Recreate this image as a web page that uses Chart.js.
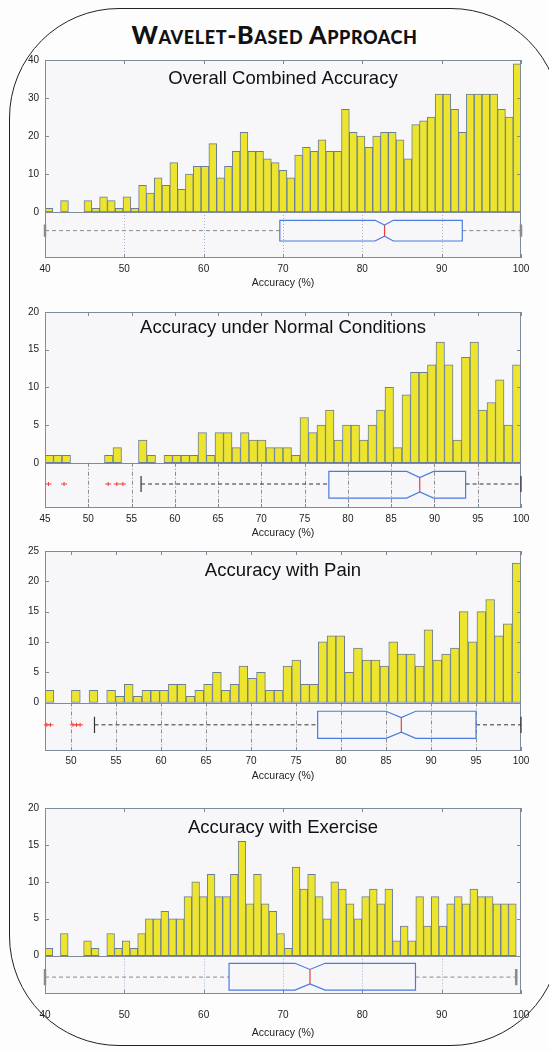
<!DOCTYPE html>
<html>
<head>
<meta charset="utf-8">
<script src="https://cdn.jsdelivr.net/npm/chart.js@4.4.1/dist/chart.umd.min.js"></script>
<style>
	html, body { margin: 0; padding: 0; background: #fdfdfd; }
	#page { position: relative; width: 549px; height: 1051px; overflow: hidden; }
	#frame {
		position: absolute; left: 9px; top: 8px; width: 550px; height: 1036px;
		border: 1.5px solid #222; border-radius: 110px;
	}
	#heading {
		position: absolute; left: 0; top: 19px; width: 549px; text-align: center;
		font: 900 25px "Lato"; font-variant: small-caps; color: #111; letter-spacing: 0.6px;
	}
	.panel { position: absolute; left: 0; width: 549px; }
</style>
</head>
<body>
<div id="page">
	<div id="frame"></div>
	<div id="heading">Wavelet-Based Approach</div>
	<div class="panel" style="top:48px;height:242px"><canvas id="chart-overall"></canvas></div>
	<div class="panel" style="top:300px;height:240px"><canvas id="chart-normal"></canvas></div>
	<div class="panel" style="top:539px;height:244px"><canvas id="chart-pain"></canvas></div>
	<div class="panel" style="top:796px;height:244px"><canvas id="chart-exercise"></canvas></div>
</div>
<script>
// DATA: histogram counts per bin (left to right), bin range, axis ticks, box plot stats

// Overall Combined Accuracy
const overall_counts = [1,0,3,0,0,3,1,4,3,1,4,1,7,5,9,7,13,6,10,12,12,18,9,12,16,21,16,16,14,13,11,9,15,17,16,19,16,16,27,21,20,17,20,21,21,19,14,23,24,25,31,31,27,21,31,31,31,31,27,25,39];
const overall_bins = [40, 100];
const overall_x_ticks = [40, 50, 60, 70, 80, 90, 100];
const overall_y_ticks = [0, 10, 20, 30, 40];
// whisker low, q1, median, q3, whisker high
const overall_box = [40, 69.6, 82.8, 92.6, 100];
const overall_notch = [81.6, 83.9];
const overall_outliers = [];

// Accuracy under Normal Conditions
const normal_counts = [1,1,1,0,0,0,0,1,2,0,0,3,1,0,1,1,1,1,4,1,4,4,2,4,3,3,2,2,2,1,6,4,5,7,3,5,5,3,5,7,10,2,9,12,12,13,16,13,3,14,16,7,8,11,5,13];
const normal_bins = [45, 100];
const normal_x_ticks = [45, 50, 55, 60, 65, 70, 75, 80, 85, 90, 95, 100];
const normal_y_ticks = [0, 5, 10, 15, 20];
const normal_box = [56.1, 77.8, 88.3, 93.6, 100];
const normal_notch = [86.8, 89.9];
const normal_outliers = [45.4, 47.2, 52.3, 53.3, 54.0];

// Accuracy with Pain
const pain_counts = [2,0,0,2,0,2,0,2,1,3,1,2,2,2,3,3,1,2,3,5,2,3,6,4,5,2,2,6,7,3,3,10,11,11,5,9,7,7,6,10,8,8,6,12,7,8,9,15,10,15,17,11,13,23];
const pain_bins = [47.1, 100];
const pain_x_ticks = [50, 55, 60, 65, 70, 75, 80, 85, 90, 95, 100];
const pain_y_ticks = [0, 5, 10, 15, 20, 25];
const pain_box = [52.6, 77.4, 86.7, 95.0, 100];
const pain_notch = [85.0, 88.3];
const pain_outliers = [47.3, 47.7, 50.2, 50.6, 51.0];

// Accuracy with Exercise
const exercise_counts = [1,0,3,0,0,2,1,0,3,1,2,1,3,5,5,6,5,5,8,10,8,11,8,8,11,15.5,7,11,7,6,3,1,12,9,11,8,5,10,9,7,5,8,9,7,9,2,4,2,8,4,8,4,7,8,7,9,8,8,7,7,7];
const exercise_bins = [40, 99.4];
const exercise_x_ticks = [40, 50, 60, 70, 80, 90, 100];
const exercise_y_ticks = [0, 5, 10, 15, 20];
const exercise_box = [40, 63.2, 73.4, 86.7, 99.4];
const exercise_notch = [71.5, 75.3];
const exercise_outliers = [];

// STYLE
const font_family = '"Liberation Sans", Arial, sans-serif';
const bar_fill = "#ede42e";
const bar_edge = "#6a7d96";
const plot_bg = "#f7f7f9";
const frame_color = "#7f8a9a";
const box_color = "#4b7be0";
const median_color = "#f03c3c";

function to_points(counts, bins) {
	const step = (bins[1] - bins[0]) / counts.length;
	return counts.map((c, i) => ({ x: bins[0] + (i + 0.5) * step, y: c }));
}

function make_overlay(cfg) {
	return {
		id: "overlay_" + cfg.id,
		beforeDraw(chart) {
			const { ctx, chartArea: a } = chart;
			ctx.save();
			ctx.fillStyle = plot_bg;
			ctx.fillRect(a.left, a.top, a.right - a.left, a.bottom - a.top);
			ctx.restore();
		},
		afterDraw(chart) {
			const { ctx, chartArea: a } = chart;
			const xs = chart.scales.x;
			const ys = chart.scales.y;
			const y0 = ys.getPixelForValue(0);
			ctx.save();

			// grid of the box plot strip
			ctx.strokeStyle = cfg.grid_color;
			ctx.lineWidth = 1;
			ctx.setLineDash(cfg.grid_dash);
			cfg.x_ticks.forEach(v => {
				const px = Math.round(xs.getPixelForValue(v)) + 0.5;
				if (px <= a.left + 1 || px >= a.right - 1) return;
				ctx.beginPath();
				ctx.moveTo(px, y0);
				ctx.lineTo(px, a.bottom);
				ctx.stroke();
			});
			ctx.setLineDash([]);

			// frame, zero line and inward ticks
			ctx.strokeStyle = frame_color;
			ctx.strokeRect(a.left + 0.5, a.top + 0.5, a.right - a.left - 1, a.bottom - a.top - 1);
			ctx.beginPath();
			ctx.moveTo(a.left, Math.round(y0) + 0.5);
			ctx.lineTo(a.right, Math.round(y0) + 0.5);
			ctx.stroke();
			ctx.beginPath();
			cfg.x_ticks.forEach(v => {
				const px = Math.round(xs.getPixelForValue(v)) + 0.5;
				ctx.moveTo(px, a.top); ctx.lineTo(px, a.top + 4);
				ctx.moveTo(px, a.bottom); ctx.lineTo(px, a.bottom - 4);
			});
			cfg.y_ticks.forEach(v => {
				const py = Math.round(ys.getPixelForValue(v)) + 0.5;
				ctx.moveTo(a.left, py); ctx.lineTo(a.left + 4, py);
				ctx.moveTo(a.right, py); ctx.lineTo(a.right - 4, py);
			});
			ctx.stroke();

			// box plot below zero
			const strip = a.bottom - y0;
			const top = y0 + strip * cfg.box_top;
			const bot = y0 + strip * cfg.box_bottom;
			const mid = y0 + strip * cfg.whisker_at;
			const inset = (bot - top) * 0.23;
			const [w_lo, q1, med, q3, w_hi] = cfg.box.map(v => xs.getPixelForValue(v));
			const [n_lo, n_hi] = cfg.notch.map(v => xs.getPixelForValue(v));

			ctx.strokeStyle = cfg.whisker_color;
			ctx.lineWidth = 1;
			ctx.setLineDash([4, 3]);
			ctx.beginPath();
			ctx.moveTo(w_lo, mid); ctx.lineTo(q1, mid);
			ctx.moveTo(q3, mid); ctx.lineTo(w_hi, mid);
			ctx.stroke();
			ctx.setLineDash([]);
			ctx.lineWidth = cfg.cap_width;
			const cap = (bot - top) * 0.3;
			ctx.beginPath();
			ctx.moveTo(w_lo, mid - cap); ctx.lineTo(w_lo, mid + cap);
			ctx.moveTo(w_hi, mid - cap); ctx.lineTo(w_hi, mid + cap);
			ctx.stroke();

			ctx.strokeStyle = box_color;
			ctx.lineWidth = 1.2;
			ctx.beginPath();
			ctx.moveTo(q1, top);
			ctx.lineTo(n_lo, top);
			ctx.lineTo(med, top + inset);
			ctx.lineTo(n_hi, top);
			ctx.lineTo(q3, top);
			ctx.lineTo(q3, bot);
			ctx.lineTo(n_hi, bot);
			ctx.lineTo(med, bot - inset);
			ctx.lineTo(n_lo, bot);
			ctx.lineTo(q1, bot);
			ctx.closePath();
			ctx.stroke();

			ctx.strokeStyle = median_color;
			ctx.beginPath();
			ctx.moveTo(med, top + inset);
			ctx.lineTo(med, bot - inset);
			ctx.stroke();

			ctx.lineWidth = 1;
			cfg.outliers.forEach(v => {
				const px = xs.getPixelForValue(v);
				ctx.beginPath();
				ctx.moveTo(px - 3, mid); ctx.lineTo(px + 3, mid);
				ctx.moveTo(px, mid - 2); ctx.lineTo(px, mid + 2);
				ctx.stroke();
			});

			// panel title inside the plot
			ctx.fillStyle = "#111";
			ctx.font = "18.5px " + font_family;
			ctx.textAlign = "center";
			ctx.textBaseline = "middle";
			ctx.fillText(cfg.title, (a.left + a.right) / 2, a.top + cfg.title_dy);
			ctx.restore();
		}
	};
}

function build_chart(cfg) {
	const canvas = document.getElementById(cfg.id);
	return new Chart(canvas, {
		type: "bar",
		data: {
			datasets: [{
				data: to_points(cfg.counts, cfg.bins),
				backgroundColor: bar_fill,
				borderColor: bar_edge,
				borderWidth: 1,
				borderSkipped: false,
				barPercentage: 1,
				categoryPercentage: 1
			}]
		},
		options: {
			responsive: true,
			maintainAspectRatio: false,
			animation: false,
			layout: { padding: { top: 8, left: 7, right: 28, bottom: 0 } },
			plugins: { legend: { display: false }, tooltip: { enabled: false } },
			scales: {
				x: {
					type: "linear",
					offset: false,
					min: cfg.x_range[0],
					max: cfg.x_range[1],
					afterBuildTicks: axis => { axis.ticks = cfg.x_ticks.map(v => ({ value: v })); },
					afterFit: axis => { axis.height = cfg.axis_height; },
					grid: { display: false, drawTicks: false },
					border: { display: false },
					ticks: {
						padding: cfg.label_gap,
						maxRotation: 0,
						autoSkip: false,
						color: "#222",
						font: { family: font_family, size: 10 }
					},
					title: {
						display: true,
						text: "Accuracy (%)",
						color: "#222",
						padding: { top: 0, bottom: 1 },
						font: { family: font_family, size: 10.5 }
					}
				},
				y: {
					min: cfg.y_range[0],
					max: cfg.y_range[1],
					afterBuildTicks: axis => { axis.ticks = cfg.y_ticks.map(v => ({ value: v })); },
					afterFit: axis => { axis.width = 38; },
					grid: { display: false, drawTicks: false },
					border: { display: false },
					ticks: {
						padding: 6,
						color: "#222",
						font: { family: font_family, size: 10 }
					}
				}
			}
		},
		plugins: [make_overlay(cfg)]
	});
}

const light_grid = { grid_color: "#9fb4d0", grid_dash: [1, 2], whisker_color: "#8a8a8a", cap_width: 2.5 };
const dark_grid = { grid_color: "#8c8c8c", grid_dash: [4, 2, 1, 2], whisker_color: "#333", cap_width: 1.2 };

build_chart(Object.assign({
	id: "chart-overall", title: "Overall Combined Accuracy", title_dy: 19,
	counts: overall_counts, bins: overall_bins, x_range: [40, 100], y_range: [-12.1, 40],
	x_ticks: overall_x_ticks, y_ticks: overall_y_ticks,
	box: overall_box, notch: overall_notch, outliers: overall_outliers,
	box_top: 0.18, box_bottom: 0.63, whisker_at: 0.405,
	axis_height: 32, label_gap: 5
}, light_grid));

build_chart(Object.assign({
	id: "chart-normal", title: "Accuracy under Normal Conditions", title_dy: 16,
	counts: normal_counts, bins: normal_bins, x_range: [45, 100], y_range: [-6, 20],
	x_ticks: normal_x_ticks, y_ticks: normal_y_ticks,
	box: normal_box, notch: normal_notch, outliers: normal_outliers,
	box_top: 0.19, box_bottom: 0.78, whisker_at: 0.47,
	axis_height: 32, label_gap: 5
}, dark_grid));

build_chart(Object.assign({
	id: "chart-pain", title: "Accuracy with Pain", title_dy: 20,
	counts: pain_counts, bins: pain_bins, x_range: [47.1, 100], y_range: [-8, 25],
	x_ticks: pain_x_ticks, y_ticks: pain_y_ticks,
	box: pain_box, notch: pain_notch, outliers: pain_outliers,
	box_top: 0.18, box_bottom: 0.74, whisker_at: 0.46,
	axis_height: 32, label_gap: 4
}, dark_grid));

build_chart(Object.assign({
	id: "chart-exercise", title: "Accuracy with Exercise", title_dy: 20,
	counts: exercise_counts, bins: exercise_bins, x_range: [40, 100], y_range: [-5.2, 20],
	x_ticks: exercise_x_ticks, y_ticks: exercise_y_ticks,
	box: exercise_box, notch: exercise_notch, outliers: exercise_outliers,
	box_top: 0.2, box_bottom: 0.9, whisker_at: 0.56,
	axis_height: 46, label_gap: 15
}, light_grid));
</script>
</body>
</html>
